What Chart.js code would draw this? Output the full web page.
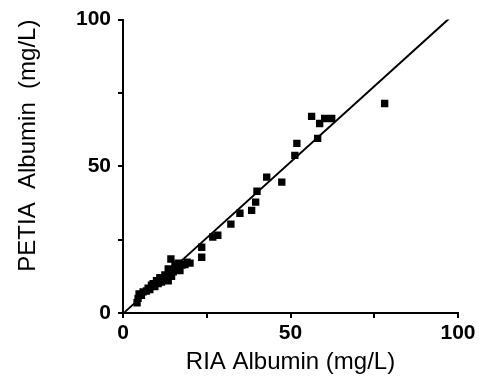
<!DOCTYPE html>
<html>
  <head>
    <meta charset="utf-8">
    <title>PETIA vs RIA Albumin</title>
    <script src="https://cdn.jsdelivr.net/npm/chart.js@4"></script>
    <style>
      body { margin: 0; background: white; }
      #wrap { width: 479px; height: 377px; }
    </style>
  </head>
  <body>
    <div id="wrap"><canvas id="albChart" width="479" height="377"></canvas></div>
    <script>
      // RIA albumin (x) and PETIA albumin (y), mg/L
      const riaValues = [4.2, 4.5, 4.8, 5.5, 6, 7, 7.5, 8, 8.5, 9, 9.5, 10, 10.5, 11, 11.5, 12, 12.5, 13, 13.5, 14,
        14.5, 13.5, 14.3, 15, 15.5, 16, 16.5, 17, 17.6, 18.5, 19.1, 20,
        23.5, 23.5, 26.8, 28.3, 32.2, 34.9, 38.4, 39.6, 40, 42.9, 47.4, 51.3, 51.9, 56.3, 58.1, 58.7, 60.2, 62.3, 78.1];
      const petiaValues = [3.5, 5, 6.5, 6, 7.2, 7.5, 8.5, 8, 9.5, 10, 9, 11, 10, 12, 10.5, 11.5, 13, 12, 11, 13.5,
        12.5, 15, 18.4, 14, 16.5, 15, 17, 14.5, 16.3, 16.5, 17.3, 17,
        22.4, 19, 25.9, 26.5, 30.3, 34, 35, 37.8, 41.5, 46.3, 44.6, 53.7, 57.8, 67, 59.5, 64.6, 66.3, 66.3, 71.4];
      // regression line end points
      const lineX = [0.5, 97.3];
      const lineY = [0.3, 100.3];
      const tickValues = [0, 25, 50, 75, 100];

      const points = riaValues.map((x, i) => ({ x: x, y: petiaValues[i] }));
      const fitLine = lineX.map((x, i) => ({ x: x, y: lineY[i] }));

      const tickFont = { family: 'Liberation Sans, Arial, sans-serif', size: 21, weight: 'bold' };
      const titleFont = { family: 'Liberation Sans, Arial, sans-serif', size: 24 };

      function showMajor(v) { return v % 50 === 0 ? String(v) : ''; }

      new Chart(document.getElementById('albChart'), {
        type: 'scatter',
        data: {
          datasets: [{
            data: points,
            pointStyle: 'rect',
            pointRadius: 5.2,
            backgroundColor: '#000',
            borderColor: '#000',
            borderWidth: 0
          }, {
            type: 'line',
            data: fitLine,
            borderColor: '#000',
            borderWidth: 2,
            pointRadius: 0,
            fill: false
          }]
        },
        options: {
          responsive: false,
          animation: false,
          layout: { padding: { top: 19, right: 21, left: 0, bottom: 0 } },
          plugins: { legend: { display: false }, tooltip: { enabled: false } },
          scales: {
            x: {
              type: 'linear', min: 0, max: 100,
              afterBuildTicks: s => { s.ticks = tickValues.map(v => ({ value: v })); },
              afterFit: s => { s.height = 64; },
              border: { color: '#000', width: 2 },
              grid: { drawOnChartArea: false, tickLength: 5, color: '#000', lineWidth: 2 },
              ticks: { color: '#000', font: tickFont, padding: 3, maxRotation: 0, callback: showMajor },
              title: { display: true, text: 'RIA Albumin (mg/L)', color: '#000', font: titleFont, padding: { top: 0, bottom: 0 } }
            },
            y: {
              type: 'linear', min: 0, max: 100,
              afterBuildTicks: s => { s.ticks = tickValues.map(v => ({ value: v })); },
              afterFit: s => { s.width = 123; },
              border: { color: '#000', width: 2 },
              grid: { drawOnChartArea: false, tickLength: 5, color: '#000', lineWidth: 2 },
              ticks: { color: '#000', font: tickFont, padding: 7, callback: showMajor },
              title: { display: true, text: 'PETIA  Albumin  (mg/L)', align: 'end', color: '#000', font: titleFont, padding: { top: 14, bottom: 0 } }
            }
          }
        }
      });
    </script>
  </body>
</html>
